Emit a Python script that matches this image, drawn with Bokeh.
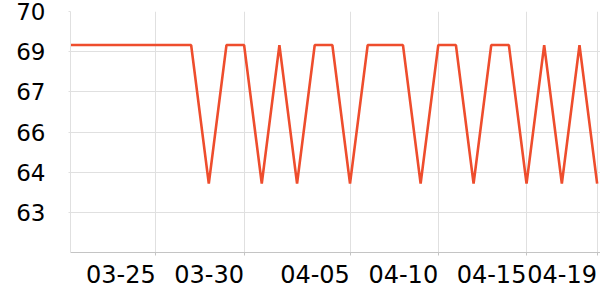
import pandas as pd
from bokeh.plotting import figure
from bokeh.models import Range1d, FixedTicker, CustomJSTickFormatter
from bokeh.embed import file_html
from bokeh.resources import INLINE

# ---- data ----
dates = pd.date_range("2024-03-20", periods=31, freq="D")
values = [68.83, 68.83, 68.83, 68.83, 68.83, 68.83, 68.83, 68.83,
          64.0, 68.83, 68.83, 64.0, 68.83, 64.0, 68.83, 68.83,
          64.0, 68.83, 68.83, 68.83, 64.0, 68.83, 68.83, 64.0,
          68.83, 68.83, 64.0, 68.83, 64.0, 68.83, 64.0]
x_tick_dates = ["2024-03-25", "2024-03-30", "2024-04-05", "2024-04-10", "2024-04-15", "2024-04-19"]
x_tick_labels = ["03-25", "03-30", "04-05", "04-10", "04-15", "04-19"]
y_min = 61.6
y_ticks = [63.0, 64.4, 65.8, 67.2, 68.6, 70.0]
y_tick_labels = ["63", "64", "66", "67", "69", "70"]

# ---- style ----
LINE_COLOR = "#EE4D2D"
GRID_COLOR = "#e0e0e0"
AXIS_COLOR = "#c4c4c4"
FONT = "DejaVu Sans"
FONT_SIZE_X = "24px"
FONT_SIZE_Y = "23px"
W, H = 600, 300
BORDER_L, BORDER_R, BORDER_T, BORDER_B = 70, 0, 11, 48
LABEL_HALF_WIDTH_PX = 35.0

DAY_MS = 86400000.0
x_ms = [d.value / 1e6 for d in dates]
x_start = x_ms[0] + 0.165 * DAY_MS
x_end = x_ms[-1] + 0.19 * DAY_MS

p = figure(width=W, height=H, x_axis_type="datetime", output_backend="svg",
           toolbar_location=None, x_range=Range1d(x_start, x_end),
           y_range=Range1d(y_min, y_ticks[-1]),
           min_border_left=BORDER_L, min_border_right=BORDER_R,
           min_border_top=BORDER_T, min_border_bottom=BORDER_B)
p.outline_line_color = None
p.background_fill_color = "white"
p.border_fill_color = "white"

p.line(x=x_ms, y=values, line_color=LINE_COLOR, line_width=2.6)

tick_ms = [pd.Timestamp(d).value / 1e6 for d in x_tick_dates]
px_per_ms = (W - BORDER_L - BORDER_R) / (x_end - x_start)
shift_ms = round(LABEL_HALF_WIDTH_PX / px_per_ms)
label_ms = [t - shift_ms for t in tick_ms]

# x axis: labels right-aligned to the date ticks; tick marks drawn as minor ticks
xa = p.xaxis[0]
xa.ticker = FixedTicker(ticks=label_ms, minor_ticks=tick_ms)
xa.formatter = CustomJSTickFormatter(args=dict(pos=label_ms, labels=x_tick_labels), code="""
    for (let i = 0; i < pos.length; i++) {
        if (Math.abs(pos[i] - tick) < 1000) return labels[i];
    }
    return "";
""")
xa.major_tick_line_color = None
xa.major_tick_out = 0
xa.major_tick_in = 0
xa.minor_tick_out = 3
xa.minor_tick_in = 0
xa.minor_tick_line_color = AXIS_COLOR
xa.axis_line_color = AXIS_COLOR
xa.major_label_standoff = 9
xa.major_label_text_font = FONT
xa.major_label_text_font_size = FONT_SIZE_X
xa.major_label_text_color = "#000000"

p.xgrid.ticker = FixedTicker(ticks=tick_ms)
p.xgrid.grid_line_color = GRID_COLOR

ya = p.yaxis[0]
ya.ticker = FixedTicker(ticks=y_ticks)
ya.formatter = CustomJSTickFormatter(args=dict(pos=y_ticks, labels=y_tick_labels), code="""
    for (let i = 0; i < pos.length; i++) {
        if (Math.abs(pos[i] - tick) < 1e-6) return labels[i];
    }
    return "";
""")
ya.major_label_text_font = FONT
ya.major_label_text_font_size = FONT_SIZE_Y
ya.major_label_text_color = "#000000"
ya.major_label_standoff = 23
ya.major_tick_out = 2
ya.major_tick_in = 0
ya.minor_tick_line_color = None
ya.axis_line_color = GRID_COLOR
ya.major_tick_line_color = GRID_COLOR
p.ygrid.grid_line_color = GRID_COLOR

open("out.html", "w").write(file_html(p, INLINE))
